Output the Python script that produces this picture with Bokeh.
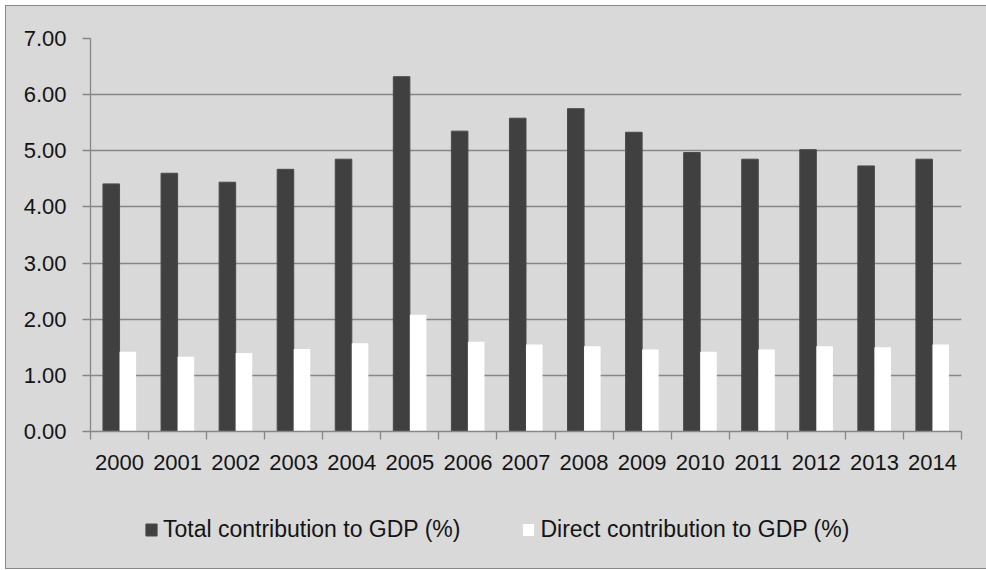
from bokeh.plotting import figure
from bokeh.layouts import column
from bokeh.models import (ColumnDataSource, Range1d, FixedTicker, NumeralTickFormatter,
                          Legend, LegendItem)
from bokeh.transform import dodge
from bokeh.embed import file_html
from bokeh.resources import INLINE

years = ["2000", "2001", "2002", "2003", "2004", "2005", "2006", "2007",
         "2008", "2009", "2010", "2011", "2012", "2013", "2014"]
total_contribution = [4.41, 4.60, 4.44, 4.67, 4.85, 6.32, 5.35, 5.58,
                      5.75, 5.33, 4.97, 4.85, 5.02, 4.73, 4.85]
direct_contribution = [1.42, 1.33, 1.40, 1.47, 1.57, 2.08, 1.60, 1.55,
                       1.52, 1.46, 1.42, 1.46, 1.52, 1.50, 1.55]
y_ticks = [0, 1, 2, 3, 4, 5, 6, 7]
series_names = ["Total contribution to GDP (%)", "Direct contribution to GDP (%)"]

n = len(years)
centers = [i + 0.5 for i in range(n)]
source = ColumnDataSource(dict(x=centers, year=years,
                               total=total_contribution, direct=direct_contribution))

FONT = "Liberation Sans"
GRID = "#878787"
TEXT = "#141414"
BG = "#d9d9d9"
DARK = dict(fill_color="#404040", line_color="#4a4a4a", line_width=1)
LIGHT = dict(fill_color="#ffffff", line_color=None)

p = figure(width=982, height=480, output_backend="svg", toolbar_location=None,
           x_range=Range1d(0, n), y_range=Range1d(0, 7),
           min_border_left=84, min_border_top=32, min_border_right=27, min_border_bottom=55,
           background_fill_color=BG, border_fill_color=BG)
p.outline_line_color = None

bw = 0.285
r_total = p.vbar(x=dodge("x", -bw / 2), top="total", width=bw, bottom=0, source=source, **DARK)
r_direct = p.vbar(x=dodge("x", bw / 2), top="direct", width=bw, bottom=0, source=source, **LIGHT)

# x axis: labels at category centres, tick marks between categories
xa = p.xaxis[0]
xa.ticker = FixedTicker(ticks=centers, minor_ticks=list(range(n + 1)))
xa.major_label_overrides = {c: y for c, y in zip(centers, years)}
xa.major_tick_out = 0
xa.major_tick_in = 0
xa.minor_tick_out = 8
xa.minor_tick_in = 0
xa.minor_tick_line_color = GRID
xa.minor_tick_line_width = 1.3
xa.axis_line_color = GRID
xa.axis_line_width = 1.3
xa.major_label_text_font = FONT
xa.major_label_text_font_size = "22px"
xa.major_label_text_color = TEXT
xa.major_label_standoff = 15

ya = p.yaxis[0]
ya.ticker = FixedTicker(ticks=y_ticks)
ya.formatter = NumeralTickFormatter(format="0.00")
ya.major_tick_out = 8
ya.major_tick_in = 0
ya.minor_tick_line_color = None
ya.major_tick_line_color = GRID
ya.major_tick_line_width = 1.3
ya.axis_line_color = GRID
ya.axis_line_width = 1.3
ya.major_label_text_font = FONT
ya.major_label_text_font_size = "22px"
ya.major_label_text_color = TEXT
ya.major_label_standoff = 16

p.xgrid.visible = False
p.ygrid.ticker = FixedTicker(ticks=y_ticks)
p.ygrid.grid_line_color = GRID
p.ygrid.grid_line_width = 1.3

# legend strip below the chart (proxy glyphs sit outside the visible range)
lg = figure(width=982, height=82, output_backend="svg", toolbar_location=None,
            x_axis_type=None, y_axis_type=None,
            x_range=Range1d(0, 1), y_range=Range1d(0, 1),
            min_border=0, min_border_left=0, min_border_right=0,
            min_border_top=0, min_border_bottom=0,
            background_fill_color=BG, border_fill_color=BG)
lg.outline_line_color = None
lg.grid.visible = False
proxy = ColumnDataSource(dict(x=[-5], top=[-5]))
l_total = lg.vbar(x="x", top="top", bottom=-6, width=0.1, source=proxy, **DARK)
l_direct = lg.vbar(x="x", top="top", bottom=-6, width=0.1, source=proxy, **LIGHT)

legend = Legend(items=[LegendItem(label=series_names[0], renderers=[l_total]),
                       LegendItem(label=series_names[1], renderers=[l_direct])],
                location=(54, 25), orientation="horizontal",
                background_fill_alpha=0, border_line_color=None,
                padding=0, margin=0, spacing=61,
                glyph_width=14, glyph_height=15, label_standoff=5,
                label_text_font=FONT, label_text_font_size="23px",
                label_text_color=TEXT, label_height=15)
lg.add_layout(legend, "center")

layout = column(p, lg, spacing=0, margin=(5, 0, 0, 5),
                styles={"border": f"1px solid {GRID}", "background-color": BG})

open("out.html", "w").write(file_html(layout, INLINE))
